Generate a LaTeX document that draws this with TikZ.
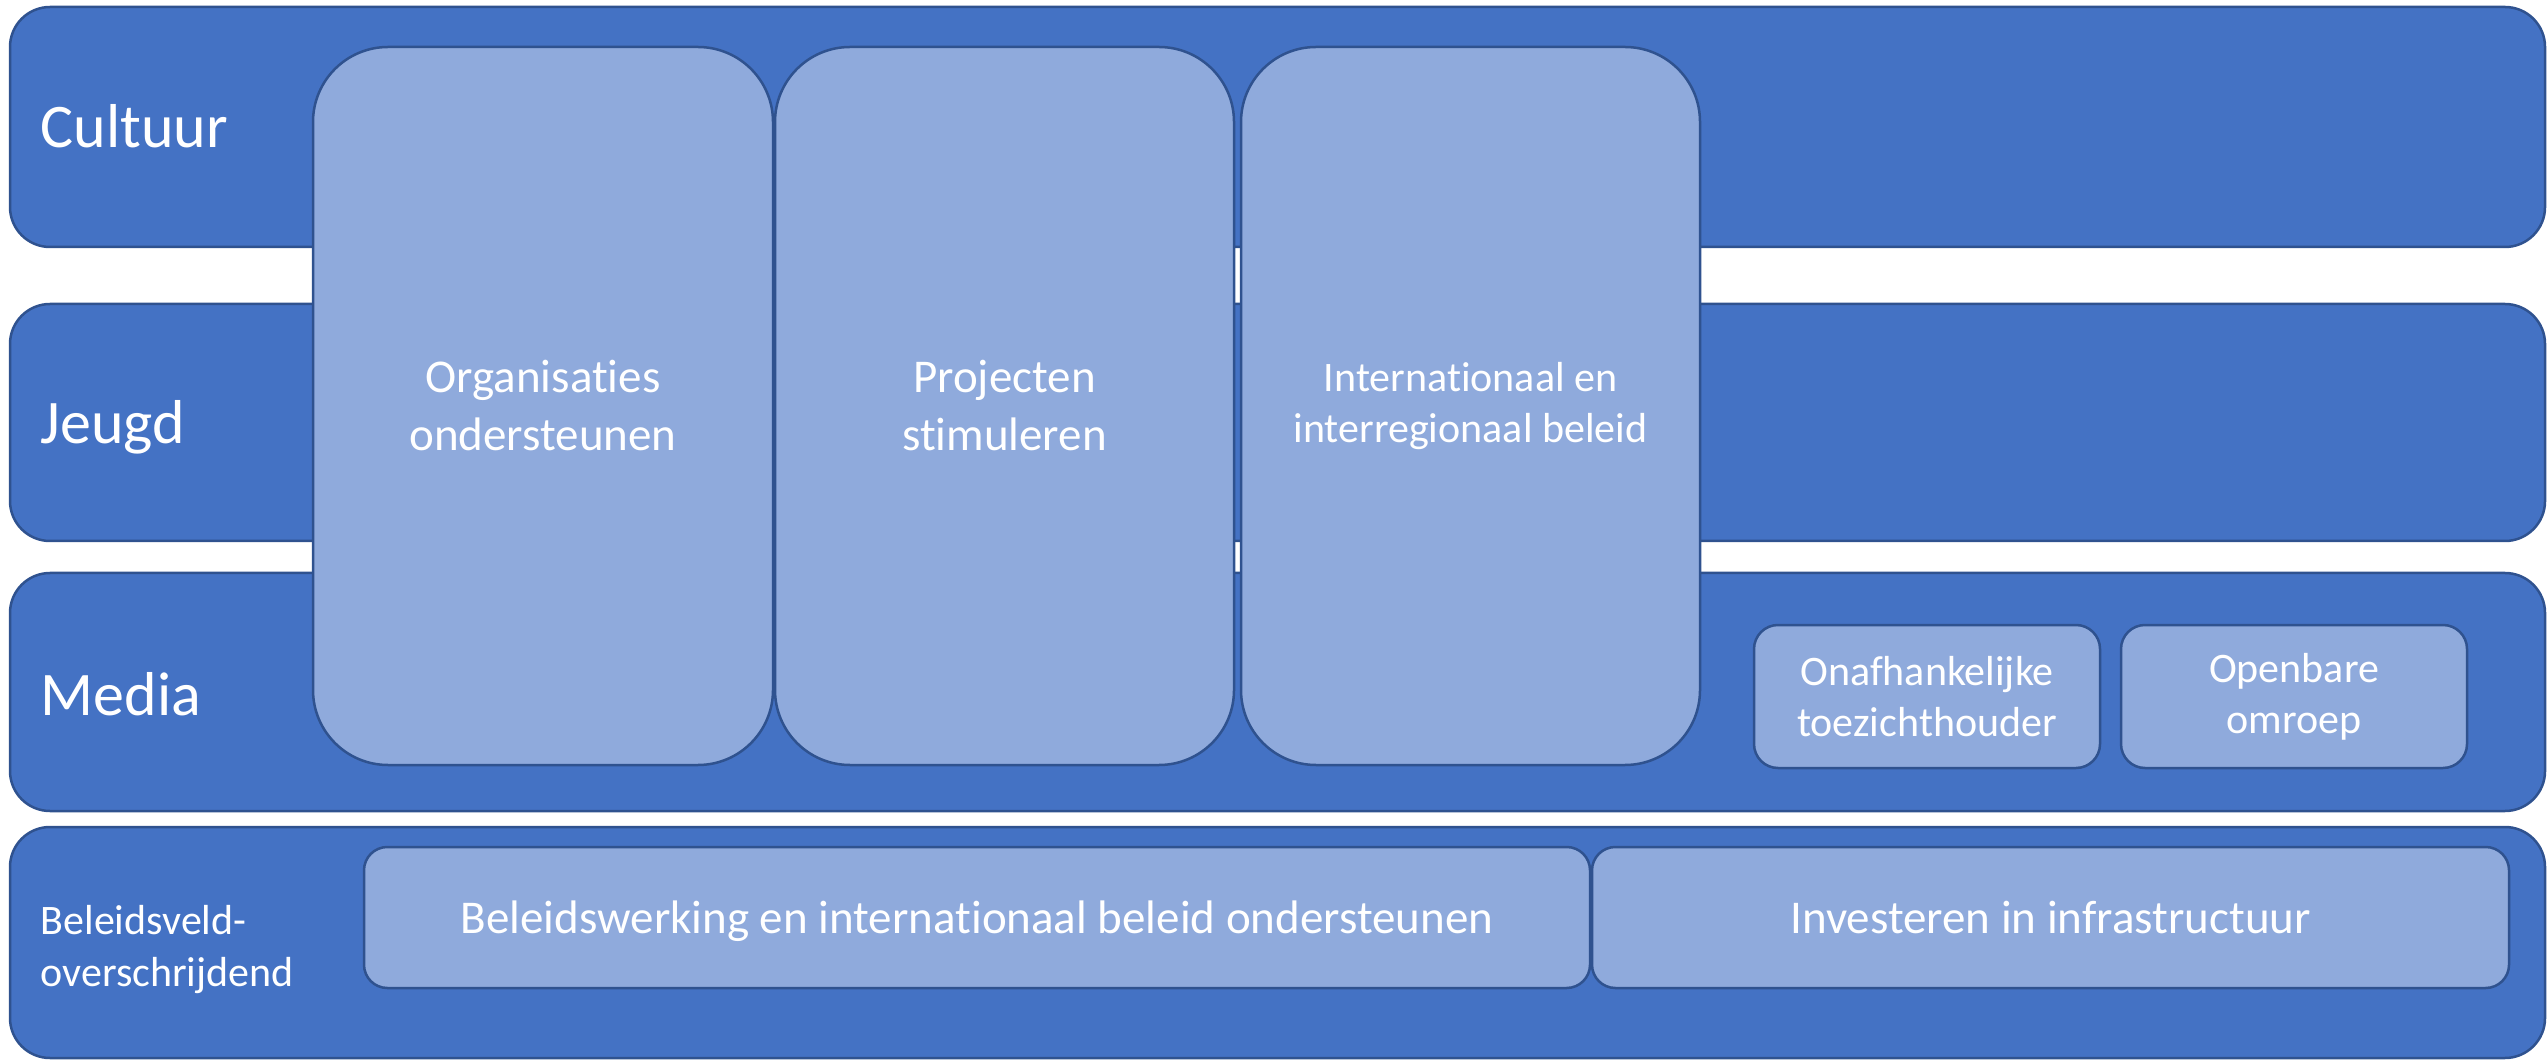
\documentclass[tikz,border=0pt]{standalone}
\usepackage{fontspec}
\setmainfont{Carlito}[Ligatures=NoCommon]
\definecolor{bandfill}{HTML}{4472C4}
\definecolor{edgeblue}{HTML}{2F528F}
\definecolor{boxfill}{HTML}{8FAADC}
\tikzset{
  band/.style={draw=edgeblue, fill=bandfill, line width=0.75pt, rounded corners=12pt, inner sep=0pt},
  colbox/.style={draw=edgeblue, fill=boxfill, line width=0.75pt, rounded corners=22.5pt, inner sep=0pt,
    text=white, align=center, font=\fontsize{14.1pt}{17.4pt}\selectfont},
  colboxsmall/.style={colbox, font=\fontsize{12.6pt}{15.3pt}\selectfont},
  smallbox/.style={draw=edgeblue, fill=boxfill, line width=0.75pt, rounded corners=7.2pt, inner sep=0pt,
    text=white, align=center, font=\fontsize{12.6pt}{15.3pt}\selectfont},
  widebox/.style={smallbox, rounded corners=7pt, text depth=0pt, font=\fontsize{14.1pt}{17pt}\selectfont},
  bandlbl/.style={text=white, inner sep=0pt, font=\fontsize{18.6pt}{22pt}\selectfont},
  bandlblsmall/.style={text=white, inner sep=0pt, align=left, font=\fontsize{12.6pt}{15.6pt}\selectfont},
}
\begin{document}
\begin{tikzpicture}[x=0.3pt,y=-0.3pt]
\useasboundingbox (0,0) rectangle (2547,1062);
% bands
\node[band, minimum width={2535*0.3pt}, minimum height={240*0.3pt}] (cultuur) at (1277.5,127) {};
\node[band, minimum width={2535*0.3pt}, minimum height={237*0.3pt}] (jeugd) at (1277.5,422.5) {};
\node[band, minimum width={2535*0.3pt}, minimum height={238*0.3pt}] (media) at (1277.5,692) {};
\node[band, minimum width={2535*0.3pt}, minimum height={231*0.3pt}] (beleid) at (1277.5,942.5) {};
% band labels
\node[bandlbl, anchor=base west] (cultuurlbl) at (40,148) {Cultuur};
\node[bandlbl, anchor=base west] (jeugdlbl) at (40,444) {Jeugd};
\node[bandlbl, anchor=base west] (medialbl) at (40,715) {Media};
\node[bandlblsmall, anchor=west] (beleidlbl) at (40,950) {Beleidsveld-\\overschrijdend};
% columns
\node[colbox, minimum width={460*0.3pt}, minimum height={718*0.3pt}] (org) at (543,406) {Organisaties\\ondersteunen};
\node[colbox, minimum width={459*0.3pt}, minimum height={718*0.3pt}] (proj) at (1004.5,406) {Projecten\\stimuleren};
\node[colboxsmall, minimum width={459*0.3pt}, minimum height={718*0.3pt}] (intl) at (1470.5,406) {Internationaal en\\interregionaal beleid};
% media boxes
\node[smallbox, minimum width={346*0.3pt}, minimum height={143*0.3pt}] (onaf) at (1927,696.5) {Onafhankelijke\\toezichthouder};
\node[smallbox, minimum width={346*0.3pt}, minimum height={143*0.3pt}] (omroep) at (2294,696.5) {Openbare\\omroep};
% cross-cutting boxes
\node[widebox, minimum width={1226*0.3pt}, minimum height={141*0.3pt}] (werking) at (977,917.5) {Beleidswerking en internationaal beleid ondersteunen};
\node[widebox, minimum width={917*0.3pt}, minimum height={141*0.3pt}] (infra) at (2050.5,917.5) {Investeren in infrastructuur};
\end{tikzpicture}
\end{document}
